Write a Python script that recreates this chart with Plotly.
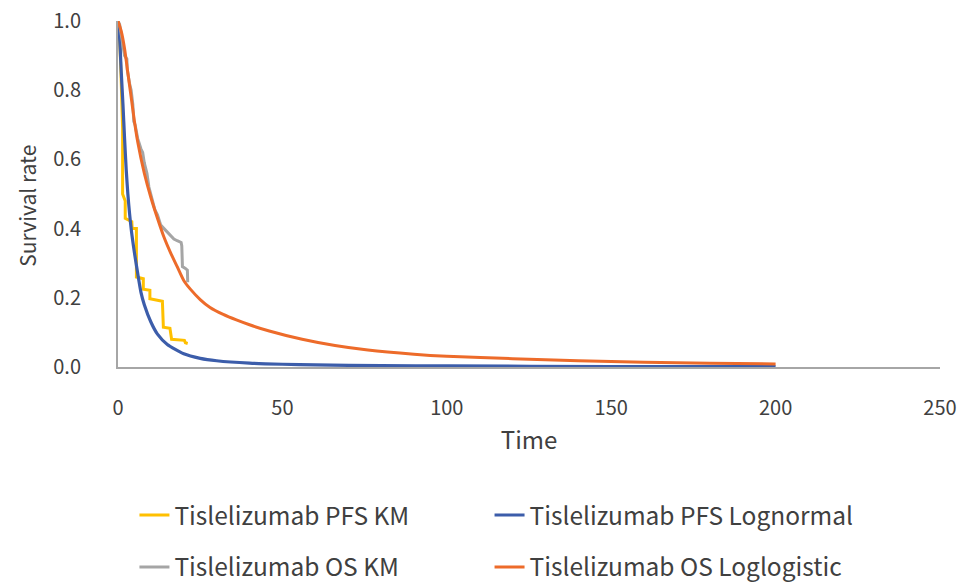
import plotly.graph_objects as go

# ---- data ----
pfs_km_t = [0, 0.5, 0.9, 1.2, 1.4, 1.4, 2.2, 2.2, 4.2, 4.3, 5.6, 5.6, 7.7, 7.7, 9.7, 9.7,
            13.5, 13.8, 15.8, 16.3, 20.2, 20.5, 21.2]
pfs_km_s = [1.0, 0.95, 0.85, 0.74, 0.69, 0.50, 0.48, 0.43, 0.42, 0.40, 0.40, 0.26, 0.255, 0.225,
            0.222, 0.197, 0.19, 0.115, 0.112, 0.08, 0.077, 0.07, 0.068]

pfs_ln_t = [0, 0.5, 1, 1.5, 2, 2.5, 3, 4, 5, 6, 7, 8, 10, 12, 15, 20, 25, 30, 40, 50, 60, 80,
            100, 150, 200]
pfs_ln_s = [1.0, 0.95, 0.85, 0.76, 0.66, 0.57, 0.50, 0.40, 0.33, 0.27, 0.215, 0.18, 0.13, 0.095,
            0.065, 0.038, 0.025, 0.018, 0.011, 0.008, 0.006, 0.004, 0.003, 0.0015, 0.001]

os_km_t = [0, 0.5, 1.0, 1.5, 2.0, 2.7, 2.8, 3.5, 4.0, 4.5, 4.8, 5.2, 6.0, 7.0, 7.5, 8.0, 8.8,
           9.4, 10.0, 10.5, 11.2, 12.0, 13.0, 14.0, 15.0, 16.3, 17.0, 18.0, 19.2, 19.4, 19.6,
           20.5, 21.1, 21.2]
os_km_s = [1.0, 0.99, 0.96, 0.93, 0.90, 0.89, 0.86, 0.82, 0.80, 0.76, 0.71, 0.70, 0.66, 0.63,
           0.62, 0.59, 0.56, 0.52, 0.50, 0.48, 0.455, 0.44, 0.41, 0.40, 0.39, 0.38, 0.37, 0.365,
           0.36, 0.35, 0.29, 0.285, 0.28, 0.245]

os_ll_t = [0, 1, 2, 3, 4, 5, 6, 8, 10, 12, 14, 16, 18, 20, 22, 25, 28, 32, 36, 40, 46, 56, 66,
           76, 90, 100, 120, 140, 160, 180, 200]
os_ll_s = [1.0, 0.97, 0.92, 0.85, 0.78, 0.71, 0.65, 0.56, 0.49, 0.43, 0.375, 0.33, 0.29, 0.25,
           0.225, 0.195, 0.172, 0.152, 0.136, 0.122, 0.104, 0.08, 0.062, 0.049, 0.037, 0.031,
           0.024, 0.018, 0.014, 0.011, 0.009]

x_ticks = [0, 50, 100, 150, 200, 250]
y_ticks = [0.0, 0.2, 0.4, 0.6, 0.8, 1.0]

FONT = "Noto Sans CJK JP"
TXT = "#404040"

fig = go.Figure()
fig.add_trace(go.Scatter(x=pfs_km_t, y=pfs_km_s, mode="lines", name="Tislelizumab PFS KM",
                         line=dict(color="#FFC000", width=3), legend="legend", showlegend=True))
fig.add_trace(go.Scatter(x=pfs_ln_t, y=pfs_ln_s, mode="lines", name="Tislelizumab PFS Lognormal",
                         line=dict(color="#3C5DAA", width=3.2, shape="spline", smoothing=0.6),
                         legend="legend2", showlegend=True))
fig.add_trace(go.Scatter(x=os_km_t, y=os_km_s, mode="lines", name="Tislelizumab OS KM",
                         line=dict(color="#A5A5A5", width=3), legend="legend3", showlegend=True))
fig.add_trace(go.Scatter(x=os_ll_t, y=os_ll_s, mode="lines", name="Tislelizumab OS Loglogistic",
                         line=dict(color="#ED6B2A", width=3, shape="spline", smoothing=0.6),
                         legend="legend4", showlegend=True))

leg_common = dict(orientation="h", xanchor="left", yanchor="middle",
                  font=dict(family=FONT, size=24.5, color=TXT), bgcolor="rgba(0,0,0,0)")

fig.update_layout(
    width=969, height=582,
    showlegend=True,
    margin=dict(l=118, r=29, t=21, b=215, autoexpand=False),
    paper_bgcolor="white", plot_bgcolor="white",
    font=dict(family=FONT, size=20, color=TXT),
    xaxis=dict(range=[0, 250], tickvals=x_ticks, showgrid=False, zeroline=False,
               showline=True, linecolor="#A6A6A6", linewidth=2, ticks="", automargin=False,
               tickfont=dict(size=20, color=TXT), ticklabelstandoff=22,
               title=dict(text="Time", font=dict(size=24, color=TXT), standoff=12)),
    yaxis=dict(range=[0, 1.0], tickvals=y_ticks, tickformat=".1f", showgrid=False,
               zeroline=False, showline=True, linecolor="#A6A6A6", linewidth=2, ticks="",
               automargin=False,
               tickfont=dict(size=20, color=TXT), ticklabelstandoff=31),
    annotations=[dict(text="Survival rate", textangle=-90, xref="paper", yref="paper",
                      x=-0.11, y=0.465, xanchor="center", yanchor="middle", showarrow=False,
                      font=dict(family=FONT, size=21, color=TXT))],
    legend=dict(x=0.02, y=-0.428, **leg_common),
    legend2=dict(x=0.452, y=-0.428, **leg_common),
    legend3=dict(x=0.02, y=-0.578, **leg_common),
    legend4=dict(x=0.452, y=-0.578, **leg_common),
)

fig.write_html("out.html")
